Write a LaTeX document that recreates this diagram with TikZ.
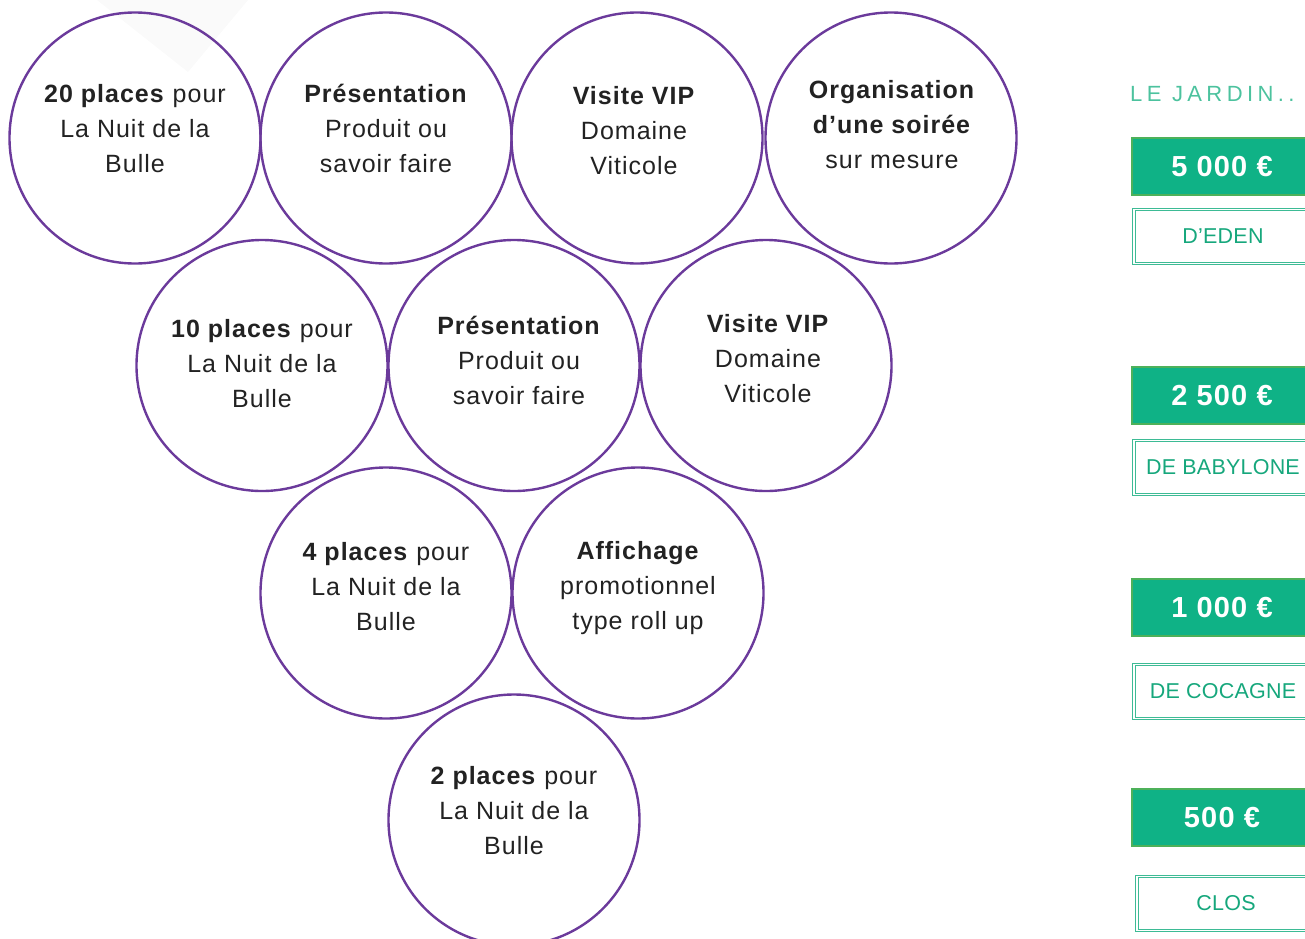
\documentclass[tikz,border=0pt]{standalone}
\usepackage{fontspec}
\setmainfont{Liberation Sans}[LetterSpace=4]
\newfontfamily\thinfont{Liberation Sans}[LetterSpace=20]
\newfontfamily\boxfont{Liberation Sans}[LetterSpace=1]
\newfontfamily\pricefont{Liberation Sans}[LetterSpace=4]
\definecolor{bubc}{HTML}{6B3A9B}
\definecolor{txtc}{HTML}{222222}
\definecolor{greenf}{HTML}{0FB286}
\definecolor{greenb}{HTML}{4DB15A}
\definecolor{tealc}{HTML}{3DBB95}
\definecolor{tealt}{HTML}{16A77C}
\definecolor{thinc}{HTML}{4CC29E}
\definecolor{wmark}{HTML}{FAFAFA}
\begin{document}
\begin{tikzpicture}[x=1pt,y=-1pt,
  bub/.style={circle, draw=bubc, line width=2.4pt, minimum size=251pt, inner sep=0pt},
  txt/.style={align=center, text=txtc, font=\fontsize{25}{35}\selectfont, inner sep=0pt},
  pricebox/.style={fill=greenf, draw=greenb, line width=2pt, minimum width=180pt, minimum height=57pt, inner sep=0pt, text=white, font=\pricefont\fontsize{29}{30}\selectfont\bfseries},
  namebox/.style={draw=tealc, double=white, double distance=1.6pt, line width=1.1pt, minimum width=178pt, minimum height=54pt, inner sep=0pt, text=tealt, font=\boxfont\fontsize{21.5}{24}\selectfont}]
\useasboundingbox (0,0) rectangle (1305,938);
\clip (0,0) rectangle (1305,938);
\fill[wmark] (97,0) -- (188,72) -- (248,0) -- cycle;
% circles
\node[bub] (c1) at (135,138) {};
\node[bub] (c2) at (386,138) {};
\node[bub] (c3) at (637,138) {};
\node[bub] (c4) at (891,138) {};
\node[bub] (c5) at (262,365.5) {};
\node[bub] (c6) at (514,365.5) {};
\node[bub] (c7) at (766,365.5) {};
\node[bub] (c8) at (386,593) {};
\node[bub] (c9) at (638,593) {};
\node[bub] (c10) at (514,820) {};
% texts
\node[txt] (t1) at (135,128.5) {\textbf{20 places} pour\\La Nuit de la\\Bulle};
\node[txt] (t2) at (386,128.5) {\textbf{Présentation}\\Produit ou\\savoir faire};
\node[txt] (t3) at (634,130.5) {\textbf{Visite VIP}\\Domaine\\Viticole};
\node[txt] (t4) at (892,125) {\textbf{Organisation}\\\textbf{d’une soirée}\\sur mesure};
\node[txt] (t5) at (262,364) {\textbf{10 places} pour\\La Nuit de la\\Bulle};
\node[txt] (t6) at (519,360) {\textbf{Présentation}\\Produit ou\\savoir faire};
\node[txt] (t7) at (768,358.5) {\textbf{Visite VIP}\\Domaine\\Viticole};
\node[txt] (t8) at (386,586.5) {\textbf{4 places} pour\\La Nuit de la\\Bulle};
\node[txt] (t9) at (638,588) {\textbf{Affichage}\\promotionnel\\type roll up};
\node[txt] (t10) at (514,810.5) {\textbf{2 places} pour\\La Nuit de la\\Bulle};
% right column
\node[anchor=west, inner sep=0pt, text=thinc, font=\thinfont\fontsize{22}{24}\selectfont] (lj) at (1130,94) {LE JARDIN..};
\node[pricebox] (p1) at (1222,166.5) {5 000 €};
\node[namebox] (n1) at (1223,236.5) {D’EDEN};
\node[pricebox] (p2) at (1222,395.5) {2 500 €};
\node[namebox] (n2) at (1223,467.5) {DE BABYLONE};
\node[pricebox] (p3) at (1222,607.5) {1 000 €};
\node[namebox] (n3) at (1223,691.5) {DE COCAGNE};
\node[pricebox] (p4) at (1222,817.5) {500 €};
\node[namebox] (n4) at (1226,903.5) {CLOS};
\end{tikzpicture}
\end{document}
